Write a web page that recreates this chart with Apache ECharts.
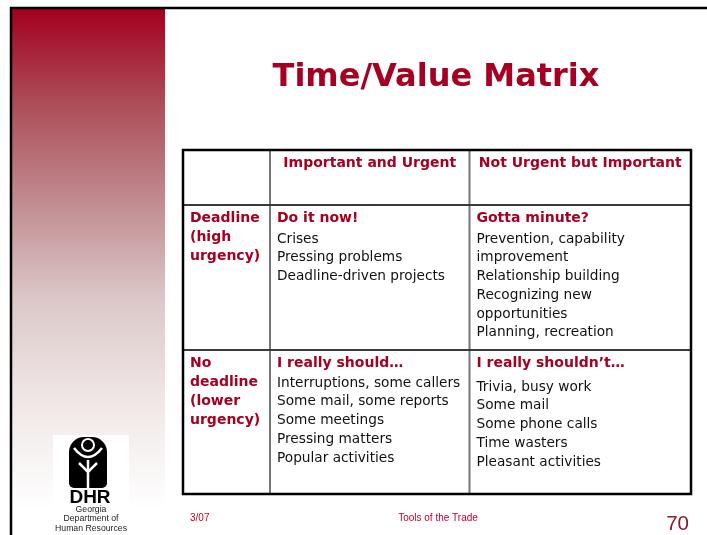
<!DOCTYPE html>
<html><head><meta charset="utf-8">
<script src="https://cdn.jsdelivr.net/npm/echarts@6/dist/echarts.min.js"></script>
<style>html,body{margin:0;padding:0;background:#fff}#c{width:707px;height:535px}</style>
</head><body><div id="c"></div>
<script>
// ---- content ----
const slideTitle = 'Time/Value Matrix';
const columnHeaders = ['', 'Important and Urgent', 'Not Urgent but Important'];
const rowLabels = [['Deadline', '(high', 'urgency)'], ['No', 'deadline', '(lower', 'urgency)']];
const cellTitles = [['Do it now!', 'Gotta minute?'], ['I really should\u2026', 'I really shouldn\u2019t\u2026']];
const cellItems = [
  [['Crises', 'Pressing problems', 'Deadline-driven projects'],
   ['Prevention, capability', 'improvement', 'Relationship building', 'Recognizing new', 'opportunities', 'Planning, recreation']],
  [['Interruptions, some callers', 'Some mail, some reports', 'Some meetings', 'Pressing matters', 'Popular activities'],
   ['Trivia, busy work', 'Some mail', 'Some phone calls', 'Time wasters', 'Pleasant activities']]
];
const footerDate = '3/07';
const footerCenter = 'Tools of the Trade';
const pageNumber = '70';
const logoName = 'DHR';
const logoLines = ['Georgia', 'Department of', 'Human Resources'];

// ---- layout (table geometry in axis units = px) ----
const colEdges = [0, 87, 286.5, 508];
const rowEdges = [0, 55, 200, 344];
const titleGaps = [[20, 20], [19, 23]];
const CRIMSON = '#a50021';
const FONT = 'DejaVu Sans';

const cells = [];
for (let r = 0; r < 3; r++) for (let c = 0; c < 3; c++) cells.push([c, r]);

function renderCell(params, api) {
  const c = api.value(0), r = api.value(1);
  const p0 = api.coord([colEdges[c], rowEdges[r]]);
  const p1 = api.coord([colEdges[c + 1], rowEdges[r + 1]]);
  const children = [];
  if (r === 0) {
    if (columnHeaders[c]) {
      children.push({type: 'text', x: (p0[0] + p1[0]) / 2, y: p0[1] + 13.5,
        style: {text: columnHeaders[c], fill: CRIMSON, fontFamily: FONT, fontWeight: 'bold', fontSize: 14,
          align: 'center', verticalAlign: 'middle'}});
    }
  } else if (c === 0) {
    const lh = 19;
    children.push({type: 'text', x: p0[0] + 7, y: p0[1] + 13.5 - lh / 2,
      style: {text: rowLabels[r - 1].join('\n'), fill: CRIMSON, fontFamily: FONT, fontWeight: 'bold', fontSize: 14,
        lineHeight: lh, align: 'left', verticalAlign: 'top'}});
  } else {
    const x = p0[0] + 7;
    const y0 = p0[1] + 13.5;
    children.push({type: 'text', x: x, y: y0,
      style: {text: cellTitles[r - 1][c - 1], fill: CRIMSON, fontFamily: FONT, fontWeight: 'bold', fontSize: 14,
        align: 'left', verticalAlign: 'middle'}});
    const lh = 18.75;
    children.push({type: 'text', x: x, y: y0 + titleGaps[r - 1][c - 1] + 0.5 - lh / 2,
      style: {text: cellItems[r - 1][c - 1].join('\n'), fill: '#111', fontFamily: FONT, fontSize: 13.7,
        lineHeight: lh, align: 'left', verticalAlign: 'top'}});
  }
  return {type: 'group', children: children};
}

function renderFrame(params, api) {
  const tl = api.coord([colEdges[0], rowEdges[0]]);
  const br = api.coord([colEdges[3], rowEdges[3]]);
  const ch = [];
  for (let i = 1; i < colEdges.length - 1; i++) {
    const a = api.coord([colEdges[i], rowEdges[0]]), b = api.coord([colEdges[i], rowEdges[3]]);
    ch.push({type: 'line', shape: {x1: a[0], y1: a[1], x2: b[0], y2: b[1]}, style: {stroke: '#777', lineWidth: 2}});
  }
  for (let i = 1; i < rowEdges.length - 1; i++) {
    const a = api.coord([colEdges[0], rowEdges[i]]), b = api.coord([colEdges[3], rowEdges[i]]);
    ch.push({type: 'line', shape: {x1: a[0], y1: a[1], x2: b[0], y2: b[1]}, style: {stroke: '#3a3a3a', lineWidth: 2}});
  }
  ch.push({type: 'rect', shape: {x: tl[0], y: tl[1], width: br[0] - tl[0], height: br[1] - tl[1]},
    style: {fill: null, stroke: '#000', lineWidth: 2.5}});
  return {type: 'group', children: ch};
}

const chart = echarts.init(document.getElementById('c'), null, {renderer: 'canvas'});
chart.setOption({
  animation: false,
  grid: {left: 183, top: 150, width: 508, height: 344},
  xAxis: {type: 'value', min: 0, max: 508, show: false},
  yAxis: {type: 'value', min: 0, max: 344, inverse: true, show: false},
  graphic: [
    {type: 'rect', z: -10, shape: {x: 12, y: 9, width: 153, height: 501},
      style: {fill: new echarts.graphic.LinearGradient(0, 0, 0, 1, [
        {offset: 0, color: '#a3001f'}, {offset: 0.18, color: '#ac4a55'}, {offset: 0.38, color: '#c08a8f'},
        {offset: 0.58, color: '#dcc8c8'}, {offset: 0.78, color: '#efe7e6'}, {offset: 1, color: '#ffffff'}])}},
    {type: 'line', shape: {x1: 11, y1: 7, x2: 11, y2: 535}, style: {stroke: '#000', lineWidth: 2.5}},
    {type: 'line', shape: {x1: 10, y1: 8, x2: 707, y2: 8}, style: {stroke: '#000', lineWidth: 2.5}},
    {type: 'text', x: 436, y: 78, style: {text: slideTitle, fill: CRIMSON, fontFamily: FONT, fontWeight: 'bold',
      fontSize: 32, align: 'center', verticalAlign: 'middle'}},
    // logo
    {type: 'rect', shape: {x: 53, y: 435, width: 76, height: 75}, style: {fill: '#fff'}},
    {type: 'rect', shape: {x: 69, y: 437, width: 38, height: 51, r: [15, 15, 5, 5]}, style: {fill: '#000'}},
    {type: 'circle', shape: {cx: 88, cy: 445, r: 6}, style: {fill: '#000', stroke: '#fff', lineWidth: 2}},
    {type: 'bezierCurve', shape: {x1: 74, y1: 448, cpx1: 88, cpy1: 466, x2: 102, y2: 448},
      style: {fill: null, stroke: '#fff', lineWidth: 2.5}},
    {type: 'line', shape: {x1: 88, y1: 460, x2: 88, y2: 489}, style: {stroke: '#fff', lineWidth: 2.5}},
    {type: 'polyline', shape: {points: [[79, 463], [88, 472], [97, 463]]}, style: {fill: null, stroke: '#fff', lineWidth: 2.5}},
    {type: 'text', x: 90, y: 498, style: {text: logoName, fill: '#000', fontFamily: 'Liberation Sans', fontWeight: 'bold',
      fontSize: 19, align: 'center', verticalAlign: 'middle'}},
    {type: 'text', x: 91, y: 505, style: {text: logoLines.join('\n'), fill: '#222', fontFamily: 'Liberation Sans',
      fontSize: 8.7, lineHeight: 9.3, align: 'center', verticalAlign: 'top'}},
    // footer
    {type: 'text', x: 190, y: 518, style: {text: footerDate, fill: '#c0002a', fontFamily: 'Liberation Sans',
      fontSize: 10, align: 'left', verticalAlign: 'middle'}},
    {type: 'text', x: 438, y: 518, style: {text: footerCenter, fill: '#c0002a', fontFamily: 'Liberation Sans',
      fontSize: 10, align: 'center', verticalAlign: 'middle'}},
    {type: 'text', x: 689, y: 524, style: {text: pageNumber, fill: '#8c1a28', fontFamily: 'Liberation Sans',
      fontSize: 20.5, align: 'right', verticalAlign: 'middle'}}
  ],
  series: [
    {type: 'custom', renderItem: renderCell, data: cells, clip: false, silent: true},
    {type: 'custom', renderItem: renderFrame, data: [[0]], clip: false, silent: true, z: 3}
  ]
});
</script></body></html>
